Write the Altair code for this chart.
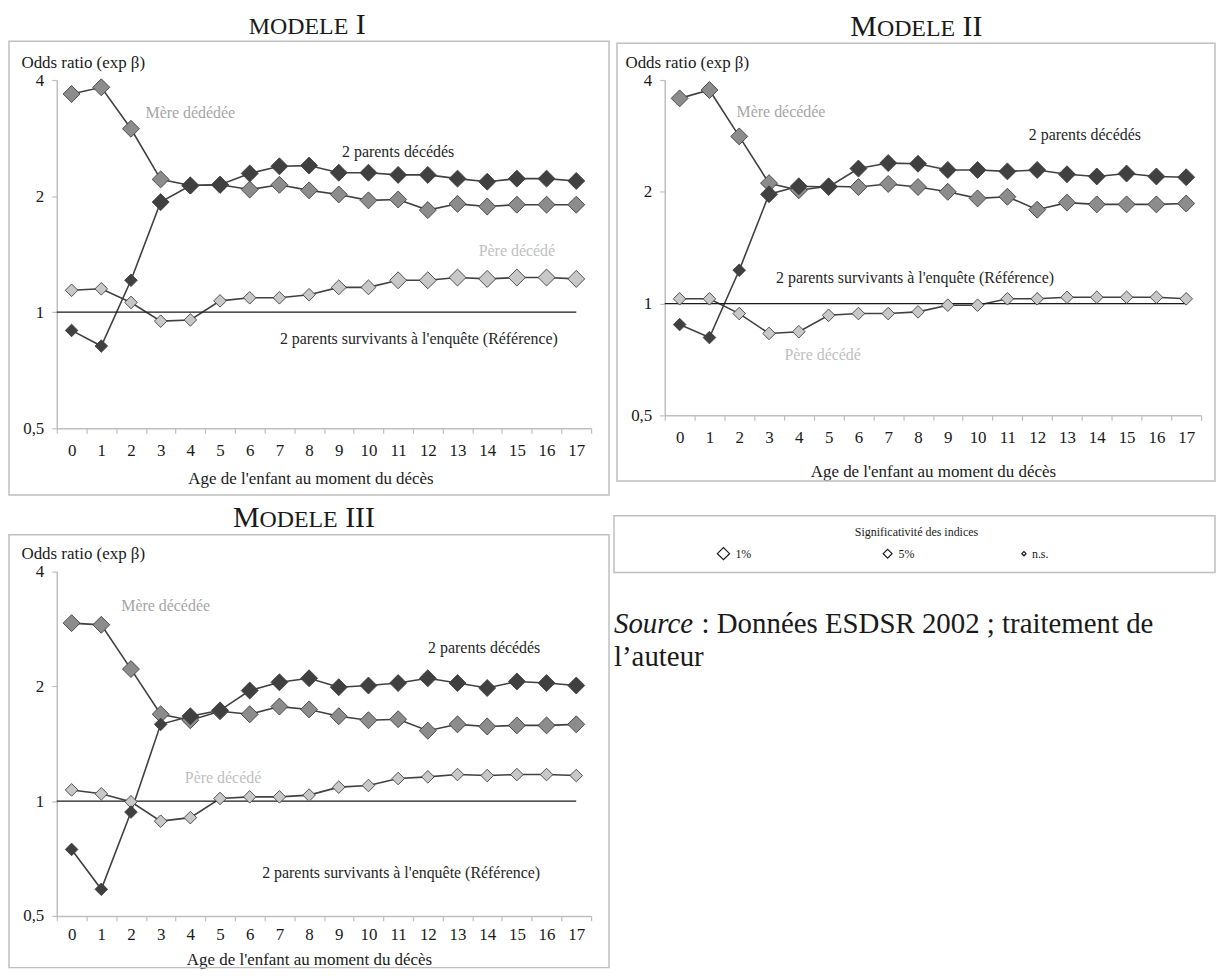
import altair as alt
import pandas as pd

AGES = list(range(18))
SERIES = ["Père décédé", "Mère décédée", "2 parents décédés"]

# ---- Modèle I
M1_MERE = [3.68, 3.83, 2.99, 2.21, 2.13, 2.14, 2.08, 2.14, 2.07, 2.02, 1.95, 1.96, 1.84, 1.91, 1.88, 1.90, 1.90, 1.90]
M1_DEUX = [0.897, 0.817, 1.21, 1.93, 2.13, 2.14, 2.29, 2.39, 2.40, 2.30, 2.30, 2.27, 2.27, 2.22, 2.18, 2.22, 2.22, 2.19]
M1_PERE = [1.14, 1.15, 1.06, 0.948, 0.955, 1.07, 1.09, 1.09, 1.11, 1.16, 1.16, 1.21, 1.21, 1.23, 1.22, 1.23, 1.23, 1.22]
S1_MERE = ["1%", "1%", "1%", "1%", "1%", "1%", "1%", "1%", "1%", "1%", "1%", "1%", "1%", "1%", "1%", "1%", "1%", "1%"]
S1_DEUX = ["n.s.", "n.s.", "n.s.", "1%", "1%", "1%", "1%", "1%", "1%", "1%", "1%", "1%", "1%", "1%", "1%", "1%", "1%", "1%"]
S1_PERE = ["n.s.", "n.s.", "n.s.", "n.s.", "n.s.", "n.s.", "n.s.", "n.s.", "n.s.", "5%", "5%", "1%", "1%", "1%", "1%", "1%", "1%", "1%"]

# ---- Modèle II
M2_MERE = [3.57, 3.76, 2.82, 2.11, 2.02, 2.07, 2.06, 2.10, 2.06, 2.00, 1.92, 1.94, 1.79, 1.87, 1.85, 1.85, 1.85, 1.86]
M2_DEUX = [0.878, 0.81, 1.23, 1.97, 2.07, 2.06, 2.31, 2.39, 2.38, 2.29, 2.29, 2.27, 2.29, 2.23, 2.20, 2.24, 2.20, 2.19]
M2_PERE = [1.03, 1.03, 0.94, 0.831, 0.84, 0.93, 0.94, 0.94, 0.95, 0.99, 0.99, 1.03, 1.03, 1.04, 1.04, 1.04, 1.04, 1.03]
S2_MERE = ["1%", "1%", "1%", "1%", "1%", "1%", "1%", "1%", "1%", "1%", "1%", "1%", "1%", "1%", "1%", "1%", "1%", "1%"]
S2_DEUX = ["n.s.", "n.s.", "n.s.", "1%", "1%", "1%", "1%", "1%", "1%", "1%", "1%", "1%", "1%", "1%", "1%", "1%", "1%", "1%"]
S2_PERE = ["n.s.", "n.s.", "n.s.", "n.s.", "n.s.", "n.s.", "n.s.", "n.s.", "n.s.", "n.s.", "n.s.", "n.s.", "n.s.", "n.s.", "n.s.", "n.s.", "n.s.", "n.s."]

# ---- Modèle III
M3_MERE = [2.93, 2.90, 2.22, 1.69, 1.63, 1.72, 1.69, 1.77, 1.74, 1.67, 1.63, 1.64, 1.53, 1.59, 1.57, 1.58, 1.58, 1.59]
M3_DEUX = [0.747, 0.587, 0.936, 1.59, 1.67, 1.73, 1.95, 2.05, 2.10, 1.99, 2.01, 2.04, 2.10, 2.04, 1.98, 2.06, 2.04, 2.01]
M3_PERE = [1.07, 1.045, 0.996, 0.886, 0.905, 1.016, 1.026, 1.026, 1.037, 1.088, 1.099, 1.146, 1.158, 1.174, 1.167, 1.174, 1.174, 1.167]
S3_MERE = ["1%", "1%", "1%", "1%", "1%", "1%", "1%", "1%", "1%", "1%", "1%", "1%", "1%", "1%", "1%", "1%", "1%", "1%"]
S3_DEUX = ["n.s.", "n.s.", "n.s.", "n.s.", "1%", "1%", "1%", "1%", "1%", "1%", "1%", "1%", "1%", "1%", "1%", "1%", "1%", "1%"]
S3_PERE = ["n.s.", "n.s.", "n.s.", "n.s.", "n.s.", "n.s.", "n.s.", "n.s.", "n.s.", "n.s.", "n.s.", "n.s.", "n.s.", "n.s.", "n.s.", "n.s.", "n.s.", "n.s."]

SIG_LEVELS = ["1%", "5%", "n.s."]
REF_LABEL = "2 parents survivants à l'enquête (Référence)"

# series labels: (text, age, dx, value, colour)
LAB1 = [("Mère dédédée", 4, 0, 3.29, "#a6a6a6"), ("2 parents décédés", 11, 0, 2.61, "#262626"),
        ("Père décédé", 15, 0, 1.44, "#c0c0c0"), (REF_LABEL, 12, -9, 0.852, "#262626")]
LAB2 = [("Mère décédée", 3, 12, 3.28, "#a6a6a6"), ("2 parents décédés", 14, -12, 2.85, "#262626"),
        (REF_LABEL, 8, -3, 1.17, "#262626"), ("Père décédé", 5, -6, 0.725, "#c0c0c0")]
LAB3 = [("Mère décédée", 3, 5, 3.24, "#a6a6a6"), ("2 parents décédés", 14, -3, 2.52, "#262626"),
        ("Père décédé", 5, 3, 1.15, "#c0c0c0"), (REF_LABEL, 11, 3, 0.647, "#262626")]

FONT = "Liberation Serif"
DARK = "#404040"
FILLS = ["#c8c8c8", "#8c8c8c", "#404040"]
FRAME = "#bfbfbf"


def txt(text, x, y, size, color="#1a1a1a", align="left", baseline="alphabetic", italic=False):
    return alt.Chart(pd.DataFrame({"t": [text]})).mark_text(
        align=align, baseline=baseline, font=FONT, fontSize=size, color=color,
        fontStyle="italic" if italic else "normal"
    ).encode(x=alt.value(x), y=alt.value(y), text="t:N")


def panel(mere, deux, pere, smere, sdeux, spere, labels, w, h, frame, title_parts,
          label_pad, xt_x, xt_y, yt_x, extra=None):
    rows = []
    for name, vals, sig in [("Père décédé", pere, spere), ("Mère décédée", mere, smere),
                            ("2 parents décédés", deux, sdeux)]:
        for a, v, s in zip(AGES, vals, sig):
            rows.append({"age": a, "val": v, "serie": name, "sig": s, "order": SERIES.index(name)})
    df = pd.DataFrame(rows)

    xenc = alt.X("age:O", scale=alt.Scale(type="band", domain=AGES, paddingInner=0, paddingOuter=0),
                 axis=alt.Axis(title="Age de l'enfant au moment du décès", labelAngle=0, tickBand="extent",
                               tickSize=5, labelPadding=label_pad, titleX=xt_x, titleY=xt_y,
                               titleBaseline="alphabetic", titleFontSize=17, titleFontWeight="normal"))
    yenc = alt.Y("val:Q", scale=alt.Scale(type="log", base=2, domain=[0.5, 4]),
                 axis=alt.Axis(title="Odds ratio (exp β)", values=[0.5, 1, 2, 4],
                               labelExpr="replace(format(datum.value, '~g'), '.', ',')",
                               tickSize=5, labelPadding=8, titleAngle=0, titleAlign="left",
                               titleBaseline="alphabetic", titleX=yt_x, titleY=-13,
                               titleFontSize=17, titleFontWeight="normal"))

    fl, ft, fr, fb = frame
    box = alt.Chart(pd.DataFrame({"k": [0]})).mark_rect(
        fillOpacity=0, stroke=FRAME, strokeWidth=1.5
    ).encode(x=alt.value(fl), x2=alt.value(w + fr), y=alt.value(ft), y2=alt.value(h + fb))

    # reference line at odds ratio 1, from the axis to the centre of the last age band
    ref = alt.Chart(pd.DataFrame({"val": [1]})).mark_rule(color="#1a1a1a", strokeWidth=1.2).encode(
        x=alt.value(0), x2=alt.value(w * (len(AGES) - 0.5) / len(AGES)), y="val:Q")

    lines = alt.Chart(df).mark_line(color=DARK, strokeWidth=1.6).encode(
        x=xenc, y=yenc, detail="serie:N", order="age:O")

    pts = alt.Chart(df).mark_point(shape="diamond", filled=True, stroke=DARK, strokeWidth=0.9,
                                   opacity=1).encode(
        x="age:O", y="val:Q",
        fill=alt.Fill("serie:N", scale=alt.Scale(domain=SERIES, range=FILLS), legend=None),
        size=alt.Size("sig:N", scale=alt.Scale(domain=SIG_LEVELS, range=[290, 160, 14]), legend=None),
        order=alt.Order("order:Q"))

    ltexts = []
    for t, a, dx, v, c in labels:
        ltexts.append(alt.Chart(pd.DataFrame({"t": [t], "age": [a], "val": [v]})).mark_text(
            font=FONT, fontSize=16, color=c, dx=dx, align="center", baseline="middle"
        ).encode(x="age:O", y="val:Q", text="t:N"))

    ttl = [txt(t, x, y, s) for t, x, y, s in title_parts]
    layers = [box, lines, ref, pts] + ltexts + ttl + (extra or [])
    return alt.layer(*layers).properties(width=w, height=h)


W1, H1 = 537, 350
W2, H2 = 539, 337
W3, H3 = 537, 346

p1 = panel(M1_MERE, M1_DEUX, M1_PERE, S1_MERE, S1_DEUX, S1_PERE, LAB1, W1, H1,
           (-48, -39, 18, 67),
           [("MODELE", 193, -46, 24), ("I", 300.5, -46, 30)],
           9, 255, 55, -36)
p2 = panel(M2_MERE, M2_DEUX, M2_PERE, S2_MERE, S2_DEUX, S2_PERE, LAB2, W2, H2,
           (-48, -37, 14, 66),
           [("M", 186.5, -44, 30), ("ODELE", 213.2, -44, 24), ("II", 299.3, -44, 30)],
           9, W2 / 2, 61, -40)

# legend + source placed to the right of panel III
extra = [
    alt.Chart(pd.DataFrame({"k": [0]})).mark_rect(fillOpacity=0, stroke=FRAME, strokeWidth=1.5).encode(
        x=alt.value(560), x2=alt.value(1164), y=alt.value(-56), y2=alt.value(1)),
    txt("Significativité des indices", 864, -36, 12, align="center"),
]
for lab, px, tx, sz in [("1%", 670, 682, 150), ("5%", 835, 846, 80), ("n.s.", 972, 980, 18)]:
    extra.append(alt.Chart(pd.DataFrame({"t": [lab]})).mark_point(
        shape="diamond", filled=True, fill="white", stroke="#1a1a1a", strokeWidth=1.2, size=sz, opacity=1
    ).encode(x=alt.value(px), y=alt.value(-18)))
    extra.append(txt(lab, tx, -14, 12))
extra += [
    txt("Source", 560, 62, 29, italic=True),
    txt(": Données ESDSR 2002 ; traitement de", 648, 62, 29),
    txt("l’auteur", 560, 95, 29),
]

p3 = panel(M3_MERE, M3_DEUX, M3_PERE, S3_MERE, S3_DEUX, S3_PERE, LAB3, W3, H3,
           (-48, -37, 18, 52),
           [("M", 177, -45, 30), ("ODELE", 203.7, -45, 24), ("III", 289.8, -45, 30)],
           6, 253.5, 49, -36, extra)

chart = alt.vconcat(alt.hconcat(p1, p2, spacing=6), p3, spacing=7).properties(
    padding=0, bounds="full"
).configure_view(stroke=None).configure_axis(
    labelFont=FONT, titleFont=FONT, labelFontSize=17, labelColor="#1a1a1a", titleColor="#1a1a1a",
    domainColor=FRAME, tickColor=FRAME, domainWidth=1.5, tickWidth=1.2, grid=False
).configure_text(font=FONT)

chart.save("out.html", embed_options={"renderer": "svg", "actions": False})
